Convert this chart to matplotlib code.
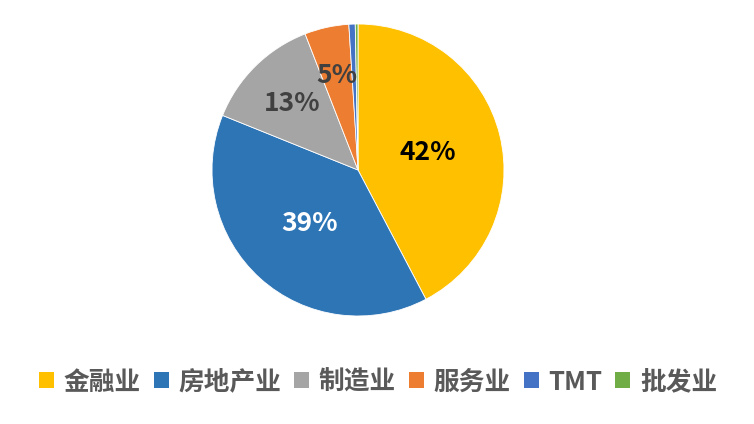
import matplotlib.pyplot as plt
from matplotlib.patches import Patch
import numpy as np

plt.rcParams['font.family'] = ['Noto Sans CJK SC', 'DejaVu Sans']

industries = ['金融业', '房地产业', '制造业', '服务业', 'TMT', '批发业']
shares = [42.3, 38.8, 13.0, 4.9, 0.7, 0.3]
colors = ['#FFC000', '#2E75B6', '#A5A5A5', '#ED7D31', '#4472C4', '#70AD47']
label_colors = ['black', 'white', '#404040', '#404040']
label_dist = [0.49, 0.49, 0.64, 0.66]

fig = plt.figure(figsize=(7.54, 4.24), dpi=100)
ax = fig.add_axes([(358 - 146) / 754, (424 - 170 - 146) / 424, 292 / 754, 292 / 424])

wedges, _ = ax.pie(shares, colors=colors, startangle=90, counterclock=False,
                   radius=1, wedgeprops=dict(edgecolor='white', linewidth=0.6))
ax.set_xlim(-1, 1)
ax.set_ylim(-1, 1)

for i, w in enumerate(wedges[:4]):
    ang = np.deg2rad((w.theta1 + w.theta2) / 2)
    d = label_dist[i]
    ax.text(d * np.cos(ang), d * np.sin(ang), '%d%%' % round(shares[i]),
            ha='center', va='center', fontsize=19, fontweight='bold',
            color=label_colors[i])

handles = [Patch(facecolor=c, edgecolor='none') for c in colors]
leg = fig.legend(handles, industries, loc='center', ncol=6,
                 bbox_to_anchor=(378 / 754, 42 / 424), frameon=False,
                 handlelength=0.58, handleheight=0.58, handletextpad=0.38,
                 columnspacing=0.5, prop=dict(size=18.5, weight='bold'))
for t in leg.get_texts():
    t.set_color('#595959')

fig.savefig('out.png', dpi=100)
